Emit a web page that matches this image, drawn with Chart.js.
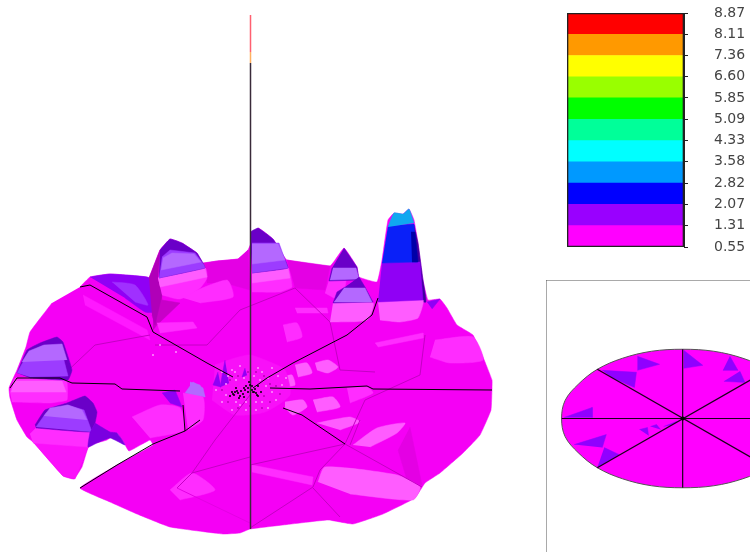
<!DOCTYPE html>
<html>
<head>
<meta charset="utf-8">
<script src="https://cdn.jsdelivr.net/npm/chart.js@4"></script>
<style>
  html, body { margin: 0; padding: 0; background: #fff; overflow: hidden; }
  canvas { position: absolute; }
</style>
</head>
<body>
<canvas id="surface" width="750" height="552" style="left:0;top:0"></canvas>
<canvas id="colorbar" width="210" height="262" style="left:540px;top:0"></canvas>
<canvas id="plan" width="204" height="272" style="left:546px;top:280px"></canvas>
<script>
// colour bar
const levels = [0.55, 1.31, 2.07, 2.82, 3.58, 4.33, 5.09, 5.85, 6.60, 7.36, 8.11, 8.87];
const bandColors = ['#ff00ff', '#9900ff', '#0000ff', '#0099ff', '#00ffff', '#00ff99', '#00ff00', '#99ff00', '#ffff00', '#ff9900', '#ff0000'];

// 3d view, projected outline and facets
const discOutline = [[80,287],[90,277],[110,274],[147,277],[149,278],[160,250],[170,239],[182,243],[197,253],[203,263],[217,261],[238,259],[248,250],[258,228],[273,239],[283,255],[287,260],[330,266],[344,248],[357,267],[359,277],[377,282],[382,260],[388,220],[394,213],[403,214],[409,209],[414,220],[418,243],[423,280],[428,300],[440,299],[447,308],[457,325],[473,335],[483,357],[492,380],[492,388],[491,410],[480,435],[463,453],[440,473],[425,483],[415,498],[383,514],[353,524],[328,520],[283,525],[250,529],[240,533],[223,534],[170,527],[137,514],[110,502],[80,488],[117,465],[153,445],[150,440],[129,451],[124,443],[117,433],[107,440],[93,444],[88,448],[82,467],[74,479],[63,476],[33,442],[27,437],[17,420],[10,398],[9,388],[17,370],[26,347],[30,332],[52,303]];

const darkFacetA = [[203,263],[217,261],[238,259],[248,250],[250,290],[225,283],[207,283]];
const darkFacetB = [[287,260],[330,266],[325,290],[295,288]];
const darkFacetC = [[153,283],[160,277],[162,300],[180,303],[157,325],[153,330]];
const darkFacetD = [[410,427],[422,485],[407,480],[398,450]];
const lightFacetA = [[318,482],[325,467],[397,475],[420,487],[413,500],[350,494]];
const lightFacetB = [[317,423],[350,417],[360,422],[340,430]];
const lightFacetC = [[353,445],[377,428],[405,423],[397,433],[370,447]];
const lightFacetD = [[252,465],[313,477],[312,485],[252,472]];
const lightFacetE = [[285,402],[303,400],[307,407],[293,415],[285,408]];
const lightFacetF = [[157,323],[193,322],[197,328],[160,333]];
const lightFacetG = [[180,297],[227,280],[233,297],[200,303]];
const lightFacetH = [[295,308],[327,308],[328,313],[297,313]];
const lightFacetI = [[375,343],[423,333],[423,338],[378,347]];
const lightFacetJ = [[435,340],[473,337],[483,360],[450,363],[430,357]];
const lightFacetL = [[132,417],[160,405],[180,408],[184,430],[150,438]];
const lightFacetM = [[183,393],[203,397],[203,420],[188,430]];
const lightFacetN = [[170,490],[192,473],[215,490],[180,500]];
const lightFacetP = [[83,295],[147,330],[150,340],[85,305]];
const cellA = [[315,363],[328,360],[338,367],[328,373],[317,370]];
const cellB = [[283,325],[297,323],[302,337],[287,342]];
const cellC = [[295,365],[307,363],[312,373],[298,377]];
const cellD = [[283,377],[292,375],[295,385],[285,387]];
const cellE = [[313,400],[333,397],[340,407],[317,412]];
const cellF = [[347,388],[367,387],[373,393],[350,403]];

// peaks, back to front
const ridgeBack = [[90,277],[110,274],[147,277],[156,283],[153,312],[145,312],[125,298]];
const ridgeBackLight = [[112,282],[135,285],[148,305],[135,302]];

const peakBSide = [[149,278],[160,250],[158,278],[162,295],[155,325],[152,315]];
const peakBTop = [[160,250],[170,239],[182,243],[197,253],[203,263],[205,268],[159,278]];
const peakBMid = [[162,257],[170,250],[195,253],[204,265],[205,268],[159,278]];
const peakBBody = [[163,258],[172,253],[194,254],[201,262],[161,270]];
const peakBBase = [[158,278],[205,268],[207,278],[200,288],[180,299],[162,295]];
const peakBBand = [[158,278],[205,268],[207,277],[160,287]];

const peakCTop = [[17,373],[27,350],[40,343],[57,337],[63,342],[72,370],[68,380],[30,378]];
const peakCMid = [[17,373],[28,353],[42,346],[60,345],[68,376],[30,377]];
const peakCBody = [[22,362],[29,351],[44,345],[62,344],[67,360]];
const peakCBase = [[10,392],[15,378],[60,378],[67,382],[67,400],[50,403],[12,402]];
const peakCBand = [[14,381],[62,381],[66,392],[11,392]];

const peakETop = [[250,232],[258,228],[273,239],[283,255],[288,268],[252,273]];
const peakEMid = [[252,243],[279,243],[288,268],[252,273]];
const peakEBody = [[252,244],[278,244],[285,260],[252,264]];
const peakEBase = [[252,273],[288,268],[292,287],[280,292],[252,292]];
const peakEBand = [[252,273],[288,268],[290,278],[252,283]];

const peakFTop = [[344,248],[357,267],[359,280],[329,281],[332,268]];
const peakFBody = [[333,268],[356,268],[359,279],[330,280]];
const peakFBase = [[329,280],[346,278],[340,300],[325,293]];

const peakGBase = [[333,303],[373,303],[367,320],[330,322]];
const peakGTop = [[359,277],[365,287],[373,302],[333,303],[337,292],[345,287]];
const peakGBody = [[344,288],[365,288],[372,302],[334,302]];

const peakHSide = [[414,225],[418,243],[423,280],[426,302],[418,300],[415,260]];
const peakHCap = [[388,227],[394,213],[403,214],[409,209],[414,223]];
const peakHBlue = [[388,226],[414,224],[417,262],[382,263]];
const peakHDeep = [[411,232],[415,232],[418,262],[412,262]];
const peakHPurple = [[382,263],[420,262],[423,300],[378,302]];
const peakHBase = [[378,302],[423,300],[418,318],[400,322],[380,320]];
const shoulderH = [[427,302],[440,299],[432,309]];

const peakDBase = [[33,442],[88,447],[83,460],[75,479],[63,476]];
const peakDBand = [[30,434],[36,428],[91,431],[88,447],[33,443]];
const peakDTop = [[35,425],[45,410],[67,403],[85,396],[93,403],[97,412],[95,423],[90,432],[36,428]];
const peakDMid = [[36,427],[46,413],[67,405],[84,410],[92,432]];
const peakDBody = [[44,416],[50,408],[68,405],[82,410],[87,420]];
const peakDFold = [[95,423],[110,432],[117,433],[125,445],[110,438],[97,443],[88,447],[90,432]];

const blobA = [[162,393],[175,390],[182,407],[170,403]];
const blobB = [[185,393],[193,382],[203,388],[205,397]];
const spikeA = [[225,360],[220,387],[229,383]];
const spikeB = [[218,372],[213,385],[221,387]];
const spikeC = [[245,368],[242,377],[247,375]];
const spikeD = [[190,382],[200,385],[205,397],[197,393],[190,390]];
const centerPatch = [[215,365],[235,358],[250,355],[270,362],[285,370],[290,395],[265,412],[235,415],[212,400]];

// creases between facets
const creaseA = [[250,528],[313,487],[320,470],[345,444]];
const creaseB = [[250,465],[345,444]];
const creaseC = [[313,488],[340,517]];
const creaseD = [[192,473],[250,457]];
const creaseE = [[192,473],[177,488]];
const creaseF = [[177,488],[250,523]];
const creaseG = [[360,420],[350,445]];
const creaseH = [[345,444],[422,487]];
const creaseI = [[295,288],[240,310],[207,345],[155,345]];
const creaseJ = [[295,288],[330,322],[340,370],[375,372]];
const creaseK = [[60,378],[95,345],[150,335]];
const creaseL = [[425,335],[420,375],[365,400],[345,444]];
const creaseM = [[250,395],[215,440],[192,473]];

// black section lines
const cutLeftBack = [[80,287],[90,285],[147,317],[153,332],[207,363],[233,377]];
const cutLeft = [[10,388],[17,378],[60,378],[72,383],[115,384],[122,389],[180,391]];
const cutFront = [[80,488],[117,465],[153,444],[185,431],[200,420]];
const cutStub = [[183,405],[185,431]];
const cutRightBack = [[378,298],[372,315],[347,335],[293,363],[267,378],[253,388]];
const cutRight = [[270,388],[310,389],[367,386],[373,389],[492,390]];
const cutRightFront = [[283,408],[302,415],[345,444]];
const axisPole = [[250.5,63],[250.5,529]];
const poleOrange = [[250.5,52],[250.5,63]];
const poleRed = [[250.5,15],[250.5,52]];

const blackSpecks = [[232,392],[233,394],[234,395],[236,388],[237,391],[238,393],[239,398],[240,396],[241,391],[243,394],[244,388],[245,390],[246,386],[248,392],[249,382],[250,385],[252,386],[252,390],[253,392],[254,392],[256,393],[257,395],[258,396],[261,392],[230,396],[258,386],[244,397],[248,388],[255,389],[235,392]];
const paleSpecks = [[222,372],[228,376],[232,370],[236,380],[240,366],[226,395],[222,402],[262,372],[268,378],[272,368],[278,376],[262,402],[268,408],[256,410],[240,405],[232,410],[276,400],[282,385],[286,378],[216,390],[160,345],[153,355],[176,352],[258,368],[246,410],[235,372],[244,378],[254,376],[260,380],[266,386],[272,392],[256,402],[246,402],[236,402],[226,384]];
const darkSpecks = [[225,374],[230,380],[238,376],[248,372],[256,372],[264,376],[270,384],[276,386],[264,396],[270,402],[250,406],[238,408],[228,402],[222,390],[262,408],[280,394]];

// plan view
const planOutline = [[804,419],[800,401],[787,385],[768,370],[743,359],[714,352],[683,350],[652,352],[623,359],[598,370],[579,385],[566,401],[562.5,419],[566,437],[579,453],[598,468],[623,479],[652,486],[683,488],[714,486],[743,479],[768,468],[787,453],[800,437]];
const planPatches = [
  [[638,357],[660,365],[638,371]],
  [[603,371],[637,373],[635,388],[612,378]],
  [[684,351],[703,366],[684,369]],
  [[730,357],[738,371],[723,371]],
  [[740,372],[745,383],[724,382]],
  [[565,418],[593,408],[593,418]],
  [[575,445],[607,435],[603,448]],
  [[605,448],[620,455],[598,468]],
  [[640,430],[648,428],[649,436]],
  [[651,427],[657,425],[661,430]],
  [[664,427],[677,422],[670,426]]
];
const planSpokes = [
  [[683,350],[683,488]],
  [[562.5,419],[804,419]],
  [[598,370],[769,468]],
  [[598,468],[769,370]]
];

function pts(arr) {
  return arr.map(p => ({ x: p[0], y: p[1] }));
}

function fillSet(arr, color, tension) {
  return { data: pts(arr), backgroundColor: color, borderColor: color, borderWidth: 0.5, fill: 'shape', pointRadius: 0, tension: tension || 0, showLine: true };
}

function lineSet(arr, color, width) {
  return { data: pts(arr), borderColor: color, borderWidth: width, fill: false, pointRadius: 0, tension: 0, showLine: true };
}

function dotSet(arr, color, radius) {
  return { data: pts(arr), backgroundColor: color, borderWidth: 0, pointRadius: radius, showLine: false };
}

const MAG = '#f500f5', DARK = '#e400e4', PINK = '#ff2cff', PALE = '#ff5cff';
const PURPLE = '#9000f5', MID = '#9c3cff', LILAC = '#b468ff', DEEP = '#6a00c8', FOLD = '#c400c4';
const SOFT = 0.2;

// painted back to front
const surfaceSets = [
  fillSet(discOutline, MAG, 0.1),
  fillSet(darkFacetA, DARK), fillSet(darkFacetB, DARK), fillSet(darkFacetC, '#c800c8'),
  fillSet(darkFacetD, DARK),
  fillSet(lightFacetA, PALE, SOFT), fillSet(lightFacetB, PALE, SOFT), fillSet(lightFacetC, PALE, SOFT),
  fillSet(lightFacetD, PINK), fillSet(lightFacetE, PALE, SOFT), fillSet(lightFacetF, PINK),
  fillSet(lightFacetG, PINK, SOFT), fillSet(lightFacetH, PINK), fillSet(lightFacetI, PINK),
  fillSet(lightFacetJ, PINK, SOFT), fillSet(lightFacetL, PINK, SOFT), fillSet(lightFacetM, PINK, SOFT),
  fillSet(lightFacetN, PINK, SOFT), fillSet(lightFacetP, '#ff18ff'),
  fillSet(cellA, PALE, SOFT), fillSet(cellB, PINK, SOFT), fillSet(cellC, PALE, SOFT),
  fillSet(cellD, PALE, SOFT), fillSet(cellE, PALE, SOFT), fillSet(cellF, PINK, SOFT),
  fillSet(centerPatch, '#f810f8', SOFT),
  lineSet(creaseA, FOLD, 1), lineSet(creaseB, FOLD, 1), lineSet(creaseC, FOLD, 1),
  lineSet(creaseD, FOLD, 1), lineSet(creaseE, FOLD, 1), lineSet(creaseF, DARK, 1),
  lineSet(creaseG, FOLD, 1), lineSet(creaseH, FOLD, 1), lineSet(creaseI, FOLD, 1),
  lineSet(creaseJ, FOLD, 1), lineSet(creaseK, FOLD, 1), lineSet(creaseL, FOLD, 1),
  lineSet(creaseM, FOLD, 1),
  fillSet(ridgeBack, PURPLE, 0.15), fillSet(ridgeBackLight, '#a030ff', SOFT),
  fillSet(peakBSide, '#b000b8'), fillSet(peakBBase, PINK, SOFT), fillSet(peakBBand, PALE),
  fillSet(peakBTop, DEEP, 0.1), fillSet(peakBMid, MID), fillSet(peakBBody, LILAC),
  fillSet(peakCBase, PINK, 0.1), fillSet(peakCBand, PALE), fillSet(peakCTop, DEEP, 0.1), fillSet(peakCMid, MID), fillSet(peakCBody, LILAC),
  fillSet(peakEBase, PINK, 0.1), fillSet(peakEBand, PALE), fillSet(peakETop, DEEP, 0.1), fillSet(peakEMid, MID), fillSet(peakEBody, LILAC),
  fillSet(peakFBase, PINK, SOFT), fillSet(peakFTop, DEEP), fillSet(peakFBody, LILAC),
  fillSet(peakGBase, PALE, SOFT), fillSet(peakGTop, DEEP), fillSet(peakGBody, LILAC),
  fillSet(peakHSide, '#4000a0', 0.15), fillSet(peakHBase, PALE, 0.15), fillSet(peakHPurple, PURPLE),
  fillSet(peakHBlue, '#0a20f8'), fillSet(peakHDeep, '#0000a8'), fillSet(peakHCap, '#10a8f0', 0.15),
  fillSet(shoulderH, PURPLE),
  fillSet(peakDBase, '#fb10fb'), fillSet(peakDBand, PINK), fillSet(peakDTop, DEEP, 0.1), fillSet(peakDMid, MID), fillSet(peakDBody, LILAC), fillSet(peakDFold, '#7a00e0', 0.15),
  fillSet(blobA, PURPLE), fillSet(blobB, LILAC), fillSet(spikeA, PURPLE), fillSet(spikeB, PURPLE),
  fillSet(spikeC, PURPLE), fillSet(spikeD, LILAC),
  dotSet(paleSpecks, '#ff90ff', 1), dotSet(darkSpecks, '#b800b8', 1),
  lineSet(cutLeftBack, '#000', 1), lineSet(cutLeft, '#000', 1), lineSet(cutFront, '#000', 1),
  lineSet(cutStub, '#000', 1), lineSet(cutRightBack, '#000', 1), lineSet(cutRight, '#000', 1),
  lineSet(cutRightFront, '#000', 1),
  lineSet(axisPole, '#3a2a3a', 1.5), lineSet(poleOrange, '#ffb060', 1.5), lineSet(poleRed, '#ff6070', 1.5),
  dotSet(blackSpecks, '#000', 1)
];
surfaceSets.forEach((s, i) => { s.order = surfaceSets.length - i; });

const hidden = {
  responsive: false,
  animation: false,
  events: [],
  layout: { padding: 0, autoPadding: false },
  plugins: { legend: { display: false }, tooltip: { enabled: false } }
};

new Chart(document.getElementById('surface'), {
  type: 'scatter',
  data: { datasets: surfaceSets },
  options: {
    ...hidden,
    scales: {
      x: { type: 'linear', min: 0, max: 750, display: false },
      y: { type: 'linear', min: 0, max: 552, reverse: true, display: false }
    }
  }
});

const bandSets = bandColors.map((c, i) => ({
  data: [[levels[i], levels[i + 1]]],
  backgroundColor: c,
  borderWidth: 0,
  grouped: false
}));
bandSets.unshift({
  data: [[levels[0], levels[levels.length - 1]]],
  backgroundColor: 'rgba(0,0,0,0)',
  borderColor: '#222',
  borderWidth: 1,
  borderSkipped: false,
  grouped: false,
  order: -1
});

new Chart(document.getElementById('colorbar'), {
  type: 'bar',
  data: { labels: [''], datasets: bandSets },
  options: {
    ...hidden,
    layout: { padding: { left: 27, top: 13, bottom: 15 }, autoPadding: false },
    datasets: { bar: { barPercentage: 1, categoryPercentage: 1 } },
    scales: {
      x: { display: false },
      y: {
        position: 'right',
        min: levels[0],
        max: levels[levels.length - 1],
        afterBuildTicks: axis => { axis.ticks = levels.map(v => ({ value: v })); },
        afterFit: axis => { axis.width = 66; axis.paddingTop = 0; axis.paddingBottom = 0; },
        grid: { drawOnChartArea: false, drawTicks: true, tickLength: 4, color: '#222' },
        border: { color: '#222' },
        ticks: {
          autoSkip: false,
          maxRotation: 0,
          padding: 26,
          color: '#444',
          font: { family: 'DejaVu Sans', size: 14 },
          callback: v => v.toFixed(2)
        }
      }
    }
  }
});

const planSets = [fillSet(planOutline, '#ff00ff', 0.35)];
planSets[0].borderColor = '#555';
planSets[0].borderWidth = 1;
planPatches.forEach(p => planSets.push(fillSet(p, '#9000ff')));
planSpokes.forEach(s => planSets.push(lineSet(s, '#1a001a', 1.2)));
planSets.push(dotSet([[683,419]], '#000', 2));
planSets.forEach((s, i) => { s.order = planSets.length - i; });

new Chart(document.getElementById('plan'), {
  type: 'scatter',
  data: { datasets: planSets },
  options: {
    ...hidden,
    scales: {
      x: {
        type: 'linear', min: 547, max: 750, position: 'top',
        grid: { display: false, drawTicks: false }, ticks: { display: false },
        border: { color: '#555', width: 1.5 }
      },
      y: {
        type: 'linear', min: 281, max: 552, reverse: true, position: 'left',
        grid: { display: false, drawTicks: false }, ticks: { display: false },
        border: { color: '#555', width: 1.5 }
      }
    }
  }
});
</script>
</body>
</html>
